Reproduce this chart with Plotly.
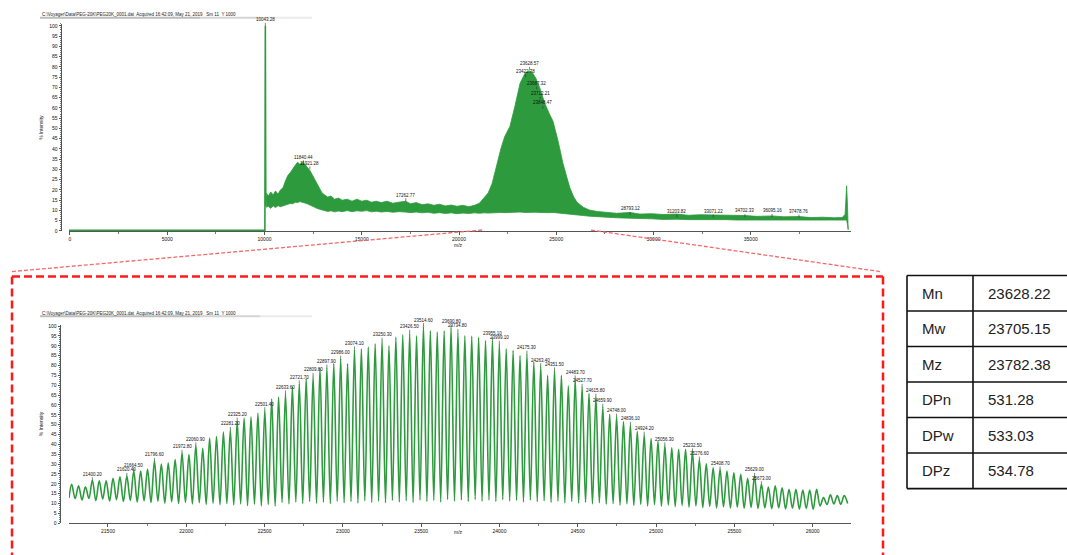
import plotly.graph_objects as go

# ====================== DATA ======================
# --- overview spectrum (top panel) ---
ov_base_mz = [-51, 9990, 10020, 10043.28, 10066, 10090]
ov_base_int = [0.3, 0.3, 0.3, 100.0, 12.0, 17.0]

ov_env_mz = [10090, 10200, 10320, 10450, 10560, 10700, 10820, 10950, 11080, 11200,
             11330, 11450, 11580, 11700, 11820, 11950, 12080, 12200, 12330, 12450,
             12580, 12700, 12830, 12960, 13100, 13250, 13420, 13600, 13800, 14000,
             14250, 14500, 14750, 15000, 15250, 15500, 15750, 16000, 16300, 16600,
             16900, 17262, 17500, 17800, 18100, 18400, 18700, 19000, 19300, 19600,
             19900, 20200, 20500, 20800, 21050, 21300, 21500, 21700, 21950, 22150,
             22350, 22620, 22880, 23140, 23400, 23600, 23750, 23950, 24160, 24420,
             24650, 24830, 25090, 25350, 25550, 25700, 25900, 26070, 26380, 26700,
             27100, 27600, 28100, 28793, 29300, 29900, 30500, 31203, 31800, 32400,
             33071, 33700, 34300, 34702, 35300, 36095, 36700, 37478, 38100, 38700,
             39300, 39700, 39850, 39930, 39975, 40010]
ov_env_hi = [18.5, 17.0, 19.0, 17.5, 19.5, 18.0, 20.0, 21.0, 24.5, 27.0,
             28.5, 30.5, 32.0, 33.5, 32.5, 33.5, 32.5, 31.0, 29.5, 27.5,
             25.0, 23.0, 20.5, 18.5, 17.5, 16.5, 17.0, 15.5, 16.0, 15.0,
             15.5, 14.5, 15.5, 14.5, 15.0, 14.0, 14.5, 13.8, 14.5, 13.5,
             14.0, 14.5, 13.2, 13.8, 12.8, 13.2, 12.5, 13.0, 12.2, 12.6,
             12.0, 12.5, 11.8, 12.5, 13.5, 16.0, 18.5, 23.0, 32.8, 40.0,
             46.0, 51.0, 61.0, 72.0, 77.0, 78.0, 77.5, 74.5, 69.6, 62.0,
             57.0, 53.6, 44.0, 32.8, 26.0, 21.0, 16.5, 14.0, 11.6, 10.2,
             9.5, 9.2, 8.6, 9.0, 8.2, 8.4, 8.0, 8.2, 7.6, 7.9,
             7.8, 7.4, 7.6, 7.5, 7.1, 7.3, 6.9, 7.0, 6.5, 6.7,
             6.4, 6.6, 8.0, 22.0, 12.0, 0.6]
ov_env_lo = [11.5, 12.0, 11.0, 12.2, 11.4, 12.3, 11.8, 12.4, 12.6, 13.0,
             13.4, 13.2, 14.0, 13.8, 14.3, 14.0, 13.6, 13.2, 12.8, 12.2,
             11.6, 11.0, 10.6, 10.2, 9.8, 9.5, 9.8, 9.3, 9.7, 9.4,
             9.9, 9.4, 9.8, 9.6, 9.9, 9.3, 9.6, 9.2, 9.5, 9.1,
             9.4, 9.2, 8.9, 9.2, 8.8, 9.1, 8.6, 8.9, 8.5, 8.8,
             8.4, 8.7, 8.5, 8.8, 8.6, 8.8, 8.7, 8.9, 8.8, 9.0,
             8.9, 9.1, 9.0, 9.2, 9.0, 9.2, 9.0, 9.1, 9.0, 9.1,
             8.9, 9.0, 8.8, 8.7, 8.5, 8.3, 8.0, 7.8, 7.5, 7.2,
             7.0, 6.6, 6.4, 6.2, 5.9, 5.9, 5.6, 5.7, 5.5, 5.6,
             5.4, 5.5, 5.3, 5.4, 5.2, 5.4, 5.2, 5.3, 5.1, 5.3,
             5.1, 5.2, 5.3, 5.3, 3.0, 0.6]

ov_label_mz = [10043.28, 11840.44, 11921.28, 17262.77, 23628.57, 23422.78, 23687.32,
               23712.21, 23848.47, 28793.12, 31203.82, 33071.22, 34702.33, 36095.16, 37478.76]
ov_label_int = [100.0, 33.0, 30.0, 14.5, 78.5, 75.0, 69.0, 64.0, 59.5, 7.8, 6.5, 6.5, 6.8, 6.8, 6.5]

# --- zoomed spectrum (bottom panel) ---
zm_start_mz, zm_start_int = 21251.0, 12.8
zm_peak_mz = [21268.0, 21312.1, 21356.1, 21400.2, 21444.2, 21488.3, 21532.3, 21576.4, 21620.4, 21664.5,
              21708.5, 21752.6, 21796.6, 21840.7, 21884.7, 21928.8, 21972.8, 22016.9, 22060.9, 22105.0,
              22149.0, 22193.1, 22237.1, 22281.2, 22325.2, 22369.3, 22413.3, 22457.4, 22501.4, 22545.5,
              22589.5, 22633.6, 22677.6, 22721.7, 22765.7, 22809.8, 22853.8, 22897.9, 22941.9, 22986.0,
              23030.0, 23074.1, 23118.1, 23162.2, 23206.2, 23250.3, 23294.3, 23338.4, 23382.4, 23426.5,
              23470.5, 23514.6, 23558.6, 23602.7, 23646.7, 23690.8, 23734.8, 23778.9, 23822.9, 23867.0,
              23911.0, 23955.1, 23999.1, 24043.2, 24087.2, 24131.3, 24175.3, 24219.4, 24263.4, 24307.5,
              24351.5, 24395.6, 24439.6, 24483.7, 24527.7, 24571.8, 24615.8, 24659.9, 24703.9, 24748.0,
              24792.0, 24836.1, 24880.1, 24924.2, 24968.2, 25012.3, 25056.3, 25100.4, 25144.4, 25188.5,
              25232.5, 25276.6, 25320.6, 25364.7, 25408.7, 25452.8, 25496.8, 25540.9, 25584.9, 25629.0,
              25673.0, 25717.1, 25761.1, 25805.2, 25849.2, 25893.3, 25937.3, 25981.4, 26025.4, 26069.5,
              26113.5, 26157.6, 26201.6]
zm_peak_int = [19.7, 19.0, 18.5, 21.8, 21.5, 21.5, 22.8, 23.5, 24.0, 26.5,
               26.5, 27.3, 31.6, 30.0, 30.5, 32.3, 35.7, 34.8, 39.5, 38.0,
               43.2, 44.0, 46.2, 47.3, 52.0, 53.3, 54.0, 55.8, 57.3, 63.0,
               64.0, 65.8, 69.2, 70.9, 73.4, 74.7, 78.4, 78.9, 80.9, 83.4,
               80.9, 88.1, 88.4, 89.3, 91.0, 92.6, 90.0, 94.3, 95.5, 96.5,
               95.0, 100.0, 97.6, 97.0, 97.6, 99.3, 97.0, 95.1, 94.8, 94.3,
               92.6, 93.0, 91.0, 88.4, 87.6, 85.0, 86.0, 81.8, 79.7, 75.0,
               77.5, 75.0, 69.7, 73.4, 69.2, 65.8, 64.2, 59.1, 55.3, 54.1,
               51.6, 49.9, 46.6, 44.9, 42.9, 41.5, 39.5, 38.2, 37.5, 37.5,
               36.5, 32.3, 30.2, 28.1, 27.3, 26.5, 25.6, 24.8, 22.8, 24.0,
               19.8, 18.4, 19.0, 18.0, 17.2, 17.2, 16.8, 16.8, 17.2, 13.0,
               14.4, 14.0, 14.0]
zm_trough_mz = [21290.0, 21334.1, 21378.1, 21422.2, 21466.2, 21510.3, 21554.3, 21598.4, 21642.4, 21686.5,
                21730.5, 21774.6, 21818.6, 21862.7, 21906.7, 21950.8, 21994.8, 22038.9, 22082.9, 22127.0,
                22171.0, 22215.1, 22259.1, 22303.2, 22347.2, 22391.3, 22435.3, 22479.4, 22523.4, 22567.5,
                22611.5, 22655.6, 22699.6, 22743.7, 22787.7, 22831.8, 22875.8, 22919.9, 22963.9, 23008.0,
                23052.0, 23096.1, 23140.1, 23184.2, 23228.2, 23272.3, 23316.3, 23360.4, 23404.4, 23448.5,
                23492.5, 23536.6, 23580.6, 23624.7, 23668.7, 23712.8, 23756.8, 23800.9, 23844.9, 23889.0,
                23933.0, 23977.1, 24021.1, 24065.2, 24109.2, 24153.3, 24197.3, 24241.4, 24285.4, 24329.5,
                24373.5, 24417.6, 24461.6, 24505.7, 24549.7, 24593.8, 24637.8, 24681.9, 24725.9, 24770.0,
                24814.0, 24858.1, 24902.1, 24946.2, 24990.2, 25034.3, 25078.3, 25122.4, 25166.4, 25210.5,
                25254.5, 25298.6, 25342.6, 25386.7, 25430.7, 25474.8, 25518.8, 25562.9, 25606.9, 25651.0,
                25695.0, 25739.1, 25783.1, 25827.2, 25871.2, 25915.3, 25959.3, 26003.4, 26047.4, 26091.5,
                26135.5, 26179.6, 26223.6]
zm_trough_int = [12.5, 11.8, 12.6, 11.5, 12.2, 11.3, 12.0, 11.0, 11.6, 10.8,
                 11.4, 10.5, 11.2, 10.2, 10.9, 10.0, 10.6, 9.8, 10.4, 9.6,
                 10.2, 9.4, 10.0, 9.2, 9.8, 9.0, 9.6, 8.8, 9.5, 8.7,
                 10.5, 9.8, 10.8, 10.0, 11.0, 10.2, 10.8, 10.0, 11.2, 10.4,
                 11.0, 10.2, 11.4, 10.6, 11.2, 10.4, 11.6, 10.8, 11.4, 10.6,
                 11.8, 11.0, 11.6, 10.8, 12.0, 11.2, 11.8, 11.0, 12.0, 11.2,
                 11.8, 11.0, 12.0, 11.2, 11.6, 10.8, 11.8, 11.0, 11.4, 10.6,
                 11.2, 10.4, 11.0, 10.2, 10.6, 9.8, 10.4, 9.6, 10.0, 9.2,
                 9.8, 9.0, 9.6, 8.8, 9.4, 8.6, 9.2, 8.4, 9.0, 8.2,
                 8.8, 8.0, 8.6, 7.8, 8.4, 7.8, 8.2, 7.6, 8.0, 7.5,
                 7.8, 7.4, 7.8, 7.3, 7.6, 7.2, 7.5, 7.1, 8.8, 9.5,
                 9.8, 9.6, 10.0]
zm_label_idx = [3, 8, 9, 12, 16, 18, 23, 24, 28, 31, 33, 35, 37, 39, 41, 45, 49, 51, 55, 56,
                61, 62, 66, 68, 70, 73, 74, 76, 77, 79, 81, 83, 86, 90, 91, 94, 99, 100]

ov_xticks = [0, 5000, 10000, 15000, 20000, 25000, 30000, 35000]
zm_xticks = [21500, 22000, 22500, 23000, 23500, 24000, 24500, 25000, 25500, 26000]

table_labels = ["Mn", "Mw", "Mz", "DPn", "DPw", "DPz"]
table_values = ["23628.22", "23705.15", "23782.38", "531.28", "533.03", "534.78"]

header_text = "C:\\Voyager\\Data\\PEG-20K\\PEG20K_0001.dat  Acquired 16:42:09, May 21, 2019   Sm 11  Y 1000"

assert len(ov_env_mz) == len(ov_env_hi) == len(ov_env_lo)
assert len(zm_peak_mz) == len(zm_peak_int) == len(zm_trough_mz) == len(zm_trough_int)

# ====================== FIGURE ======================
W, H = 1067, 555
def px(x): return x / W
def py(y): return 1 - y / H

GREEN = "#2e9a3e"
fig = go.Figure()

# top panel
fig.add_trace(go.Scatter(x=ov_base_mz, y=ov_base_int, mode="lines",
                         line=dict(color=GREEN, width=1.6), xaxis="x", yaxis="y", hoverinfo="skip"))
fig.add_trace(go.Scatter(x=ov_env_mz + ov_env_mz[::-1], y=ov_env_hi + ov_env_lo[::-1],
                         mode="lines", fill="toself", fillcolor=GREEN,
                         line=dict(color=GREEN, width=0.8), xaxis="x", yaxis="y", hoverinfo="skip"))

# bottom panel
zx, zy = [zm_start_mz], [zm_start_int]
for pm, pi_, tm, ti in zip(zm_peak_mz, zm_peak_int, zm_trough_mz, zm_trough_int):
    zx += [pm, tm]
    zy += [pi_, ti]
fig.add_trace(go.Scatter(x=zx, y=zy, mode="lines", line=dict(color=GREEN, width=1.6, shape="spline", smoothing=1.0),
                         xaxis="x2", yaxis="y2", hoverinfo="skip"))

ann = []
LBL = dict(size=4.5, color="#111", family="Arial")
ov_dx = [0, 3, 8, 0, 0, 0, 6, 9, 9, 0, 0, 0, 0, 0, 0]
for m, v, dx in zip(ov_label_mz, ov_label_int, ov_dx):
    ann.append(dict(x=m, y=v, xref="x", yref="y", text=f"{m:.2f}", showarrow=True, arrowhead=0,
                    arrowwidth=0.6, arrowcolor="#333", ax=0, ay=-6, xshift=dx, borderpad=0, font=LBL))
for i in zm_label_idx:
    ann.append(dict(x=zm_peak_mz[i], y=zm_peak_int[i], xref="x2", yref="y2", text=f"{zm_peak_mz[i]:.2f}",
                    showarrow=True, arrowhead=0, arrowwidth=0.6, arrowcolor="#333", ax=0, ay=-6,
                    borderpad=0, font=LBL))

# axis titles & header strings
for (ty, hy) in [(127, 13), (426, 314)]:
    ann.append(dict(x=px(41), y=py(ty), xref="paper", yref="paper", text="% Intensity", textangle=-90,
                    showarrow=False, xanchor="center", yanchor="middle",
                    font=dict(size=5, color="#111", family="Arial")))
    ann.append(dict(x=px(40), y=py(hy), xref="paper", yref="paper", text=header_text, xanchor="left",
                    yanchor="middle", showarrow=False, font=dict(size=4.5, color="#222", family="Arial")))
for ty in [245, 535]:
    ann.append(dict(x=px(458), y=py(ty), xref="paper", yref="paper", text="m/z", xanchor="center",
                    yanchor="middle", showarrow=False, font=dict(size=5, color="#111", family="Arial")))

shapes = []
# header grey bars
for hy in [16, 317]:
    for x0, x1, c in [(40, 200, "#bdbdbd"), (200, 260, "#d4d4d4"), (260, 312, "#ebebeb")]:
        shapes.append(dict(type="rect", xref="paper", yref="paper", x0=px(x0), x1=px(x1),
                           y0=py(hy + 1), y1=py(hy - 1), fillcolor=c, line=dict(width=0), layer="below"))

# red dashed box + connectors
RED = "#ff1a1a"
for (x0, y0, x1, y1) in [(12, 277, 12, 560), (12, 277, 883, 277), (883, 277, 883, 560)]:
    shapes.append(dict(type="line", xref="paper", yref="paper", x0=px(x0), y0=py(y0), x1=px(x1), y1=py(y1),
                       line=dict(color=RED, width=2.5, dash="8px,4px")))
for (x0, y0, x1, y1) in [(12, 272, 483, 230), (880, 272, 590, 230)]:
    shapes.append(dict(type="line", xref="paper", yref="paper", x0=px(x0), y0=py(y0), x1=px(x1), y1=py(y1),
                       line=dict(color="#f06a6a", width=1.3, dash="4px,2px")))

# table
t_top, t_bot, t_left, t_mid, t_right = 276, 491, 907, 973, 1075
row_h = (t_bot - t_top) / len(table_labels)
for k in range(len(table_labels) + 1):
    yy = t_top + k * row_h
    shapes.append(dict(type="line", xref="paper", yref="paper", x0=px(t_left), x1=px(t_right),
                       y0=py(yy), y1=py(yy), line=dict(color="#111", width=1.6)))
for xx in [t_left, t_mid]:
    shapes.append(dict(type="line", xref="paper", yref="paper", x0=px(xx), x1=px(xx),
                       y0=py(t_top), y1=py(t_bot), line=dict(color="#111", width=1.6)))
for k, (lab, val) in enumerate(zip(table_labels, table_values)):
    yc = t_top + (k + 0.5) * row_h
    ann.append(dict(x=px(920), y=py(yc), xref="paper", yref="paper", text=lab, xanchor="left",
                    yanchor="middle", showarrow=False, font=dict(size=15, color="#222", family="Liberation Sans")))
    ann.append(dict(x=px(986), y=py(yc), xref="paper", yref="paper", text=val, xanchor="left",
                    yanchor="middle", showarrow=False, font=dict(size=15, color="#222", family="Liberation Sans")))

TICKF = dict(size=5, color="#111", family="Arial")
xcommon = dict(showgrid=False, zeroline=False, showline=True, linecolor="#555", linewidth=1,
               ticks="outside", ticklen=3, tickcolor="#555", tickfont=TICKF, tickmode="array")
ycommon = dict(showgrid=False, zeroline=False, showline=True, linecolor="#555", linewidth=1,
               ticks="outside", ticklen=2.5, tickcolor="#555", tickfont=TICKF, tickmode="linear",
               tick0=0, dtick=5, anchor="free",
               minor=dict(ticks="outside", ticklen=1.5, dtick=1, tick0=0, tickcolor="#777"))

fig.update_layout(
    width=W, height=H, margin=dict(l=0, r=0, t=0, b=0),
    paper_bgcolor="white", plot_bgcolor="white", showlegend=False,
    xaxis=dict(xcommon, domain=[px(69), px(851)], range=[-51, 40154], anchor="y",
               tickvals=ov_xticks, ticktext=[str(v) for v in ov_xticks],
               minor=dict(ticks="outside", ticklen=2, tickvals=list(range(2500, 40000, 5000)), tickcolor="#777")),
    yaxis=dict(ycommon, domain=[py(231), py(22)], range=[0, 101], position=px(61)),
    xaxis2=dict(xcommon, domain=[px(69), px(851)], range=[21251, 26245], anchor="y2",
                tickvals=zm_xticks, ticktext=[str(v) for v in zm_xticks],
                minor=dict(ticks="outside", ticklen=2, tickvals=list(range(21250, 26250, 250)), tickcolor="#777")),
    yaxis2=dict(ycommon, domain=[py(526), py(326)], range=[0, 100.5], position=px(60)),
    annotations=ann, shapes=shapes,
)

fig.write_html("out.html")
